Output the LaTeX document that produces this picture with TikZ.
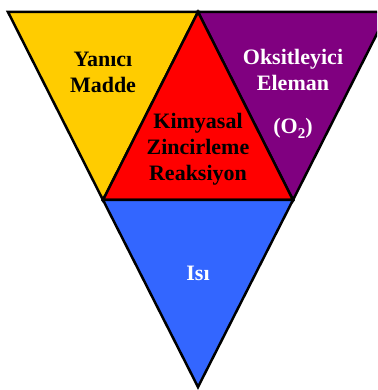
\documentclass[tikz,border=0pt]{standalone}
\usepackage{fontspec}
\setmainfont{Liberation Serif}
\usepackage{xcolor}
\usepackage{tikz}
\usetikzlibrary{positioning,calc}

\definecolor{yanici}{HTML}{FFCC00}
\definecolor{oksit}{HTML}{800080}
\definecolor{zincir}{HTML}{FF0000}
\definecolor{isi}{HTML}{3366FF}

\begin{document}
\begin{tikzpicture}[
  x=1pt, y=1pt,
  part/.style={
    draw=black,
    line width=2.5pt,
    line join=miter
  },
  label/.style={
    align=center,
    font=\fontsize{22}{26}\selectfont\bfseries
  }]

\useasboundingbox (0,0) rectangle (377,390);
\clip (0,0) rectangle (377,390);

% corners of the big triangle
\coordinate (tl) at (8,378);
\coordinate (tm) at (198,378);
\coordinate (tr) at (388,378);
\coordinate (ml) at (103,190);
\coordinate (mr) at (293,190);
\coordinate (bt) at (198,3);

% the four parts
\draw[part, fill=yanici] (tl) -- (tm) -- (ml) -- cycle;
\draw[part, fill=oksit] (tm) -- (tr) -- (mr) -- cycle;
\draw[part, fill=zincir] (tm) -- (mr) -- (ml) -- cycle;
\draw[part, fill=isi] (ml) -- (mr) -- (bt) -- cycle;

% texts
\node[label] (fuel) at (103,318) {Yanıcı\\Madde};
\node[label, text=white] (oxygen) at (293,296)
  {Oksitleyici\\Eleman\\[17pt](O\raisebox{-5pt}{\fontsize{15}{15}\selectfont 2})};
\node[label] (chain) at (198,241) {Kimyasal\\Zincirleme\\Reaksiyon};
\node[label, text=white] (heat) at (198,117) {Isı};

\end{tikzpicture}
\end{document}
